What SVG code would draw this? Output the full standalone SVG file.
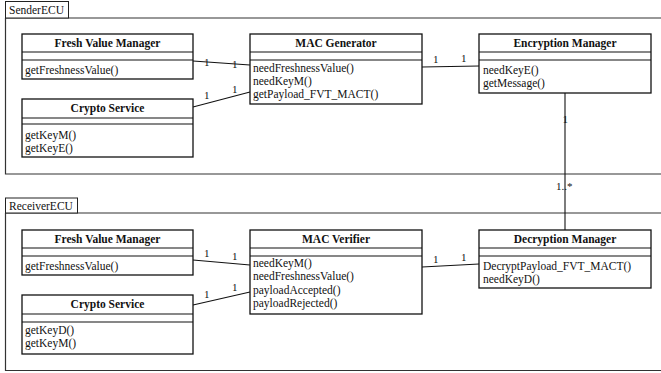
<svg xmlns="http://www.w3.org/2000/svg" width="661" height="373" viewBox="0 0 661 373">
  <style>
    .frame { fill: none; stroke: #333; stroke-width: 1.2; }
    .tab { fill: #fff; stroke: #222; stroke-width: 1; }
    .box { fill: #fff; stroke: #111; stroke-width: 1.3; }
    .sep { stroke: #111; stroke-width: 1.1; }
    .link { stroke: #111; stroke-width: 1.1; fill: none; }
    text { font-family: "Liberation Serif", "Times New Roman", serif; fill: #111; }
    .label { font-size: 11.5px; }
    .title { font-size: 11.5px; font-weight: bold; text-anchor: middle; }
    .m { font-size: 11.5px; }
    .mult { font-size: 11px; }
  </style>
  <rect width="661" height="373" fill="#fff"/>

  <!-- Sender package -->
  <g id="sender-ecu">
    <path class="frame" d="M5.5,18 V174 H661 M5.5,18 H661"/>
    <rect class="tab" x="5.5" y="1.5" width="63" height="16.5"/>
    <text class="label" x="9" y="14">SenderECU</text>
  </g>

  <!-- Receiver package -->
  <g id="receiver-ecu">
    <path class="frame" d="M5.5,213 V370.5 H661 M5.5,213 H661"/>
    <rect class="tab" x="5.5" y="198" width="72" height="15"/>
    <text class="label" x="9" y="210">ReceiverECU</text>
  </g>

  <!-- Connectors -->
  <g id="connectors">
    <line class="link" x1="193" y1="61" x2="250" y2="65"/>
    <line class="link" x1="193" y1="107" x2="250" y2="92"/>
    <line class="link" x1="422" y1="67" x2="479" y2="66"/>
    <line class="link" x1="565" y1="93" x2="565" y2="230"/>
    <line class="link" x1="193" y1="260" x2="250" y2="265"/>
    <line class="link" x1="193" y1="305" x2="250" y2="292"/>
    <line class="link" x1="422" y1="267" x2="479" y2="264"/>

    <text class="mult" x="204" y="66">1</text>
    <text class="mult" x="232" y="68">1</text>
    <text class="mult" x="204" y="99">1</text>
    <text class="mult" x="232" y="93">1</text>
    <text class="mult" x="433" y="63">1</text>
    <text class="mult" x="461" y="62">1</text>
    <text class="mult" x="562.5" y="123">1</text>
    <text class="mult" x="556" y="190">1..*</text>
    <text class="mult" x="204" y="257">1</text>
    <text class="mult" x="232" y="260">1</text>
    <text class="mult" x="204" y="298">1</text>
    <text class="mult" x="232" y="291">1</text>
    <text class="mult" x="433" y="263">1</text>
    <text class="mult" x="461" y="261">1</text>
  </g>

  <!-- Sender classes -->
  <g id="s-fresh-value-manager">
    <rect class="box" x="22" y="34" width="171" height="45"/>
    <line class="sep" x1="22" y1="52" x2="193" y2="52"/>
    <line class="sep" x1="22" y1="60" x2="193" y2="60"/>
    <text class="title" x="107.5" y="47">Fresh Value Manager</text>
    <text class="m" x="25" y="74">getFreshnessValue()</text>
  </g>

  <g id="s-crypto-service">
    <rect class="box" x="22" y="99" width="171" height="58"/>
    <line class="sep" x1="22" y1="118" x2="193" y2="118"/>
    <line class="sep" x1="22" y1="124" x2="193" y2="124"/>
    <text class="title" x="107.5" y="112">Crypto Service</text>
    <text class="m" x="25" y="139">getKeyM()</text>
    <text class="m" x="25" y="152">getKeyE()</text>
  </g>

  <g id="s-mac-generator">
    <rect class="box" x="250" y="34" width="172" height="70"/>
    <line class="sep" x1="250" y1="52" x2="422" y2="52"/>
    <line class="sep" x1="250" y1="60" x2="422" y2="60"/>
    <text class="title" x="336" y="47">MAC Generator</text>
    <text class="m" x="253" y="72">needFreshnessValue()</text>
    <text class="m" x="253" y="85">needKeyM()</text>
    <text class="m" x="253" y="98">getPayload_FVT_MACT()</text>
  </g>

  <g id="s-encryption-manager">
    <rect class="box" x="479" y="34" width="172" height="59"/>
    <line class="sep" x1="479" y1="52" x2="651" y2="52"/>
    <line class="sep" x1="479" y1="60" x2="651" y2="60"/>
    <text class="title" x="565" y="47">Encryption Manager</text>
    <text class="m" x="483" y="74">needKeyE()</text>
    <text class="m" x="483" y="87">getMessage()</text>
  </g>

  <!-- Receiver classes -->
  <g id="r-fresh-value-manager">
    <rect class="box" x="22" y="230" width="171" height="45"/>
    <line class="sep" x1="22" y1="248" x2="193" y2="248"/>
    <line class="sep" x1="22" y1="256" x2="193" y2="256"/>
    <text class="title" x="107.5" y="243">Fresh Value Manager</text>
    <text class="m" x="25" y="270">getFreshnessValue()</text>
  </g>

  <g id="r-crypto-service">
    <rect class="box" x="22" y="295" width="171" height="59"/>
    <line class="sep" x1="22" y1="314" x2="193" y2="314"/>
    <line class="sep" x1="22" y1="322" x2="193" y2="322"/>
    <text class="title" x="107.5" y="308">Crypto Service</text>
    <text class="m" x="25" y="334">getKeyD()</text>
    <text class="m" x="25" y="347">getKeyM()</text>
  </g>

  <g id="r-mac-verifier">
    <rect class="box" x="250" y="230" width="172" height="84"/>
    <line class="sep" x1="250" y1="248" x2="422" y2="248"/>
    <line class="sep" x1="250" y1="256" x2="422" y2="256"/>
    <text class="title" x="336" y="243">MAC Verifier</text>
    <text class="m" x="253" y="267">needKeyM()</text>
    <text class="m" x="253" y="280">needFreshnessValue()</text>
    <text class="m" x="253" y="294">payloadAccepted()</text>
    <text class="m" x="253" y="307">payloadRejected()</text>
  </g>

  <g id="r-decryption-manager">
    <rect class="box" x="479" y="230" width="172" height="58"/>
    <line class="sep" x1="479" y1="248" x2="651" y2="248"/>
    <line class="sep" x1="479" y1="256" x2="651" y2="256"/>
    <text class="title" x="565" y="243">Decryption Manager</text>
    <text class="m" x="483" y="270">DecryptPayload_FVT_MACT()</text>
    <text class="m" x="483" y="283">needKeyD()</text>
  </g>
</svg>
